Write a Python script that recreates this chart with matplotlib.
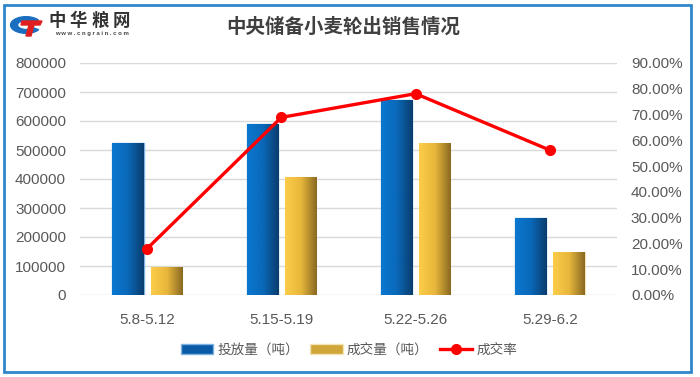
import numpy as np
import matplotlib
matplotlib.use("Agg")
import matplotlib.pyplot as plt
from matplotlib.patches import Rectangle, Wedge, Polygon
from matplotlib.lines import Line2D
from matplotlib.ticker import FuncFormatter
from matplotlib.colors import LinearSegmentedColormap

categories = ["5.8-5.12", "5.15-5.19", "5.22-5.26", "5.29-6.2"]
offered = [523000, 589000, 672000, 265000]      # 投放量（吨）
traded = [97000, 408000, 525000, 148000]        # 成交量（吨）
rate = [0.180, 0.689, 0.781, 0.562]             # 成交率
left_ticks = [0, 100000, 200000, 300000, 400000, 500000, 600000, 700000, 800000]
right_ticks = [0.0, 0.1, 0.2, 0.3, 0.4, 0.5, 0.6, 0.7, 0.8, 0.9]
title = "中央储备小麦轮出销售情况"
legend_labels = ["投放量（吨）", "成交量（吨）", "成交率"]
logo_chars = ["中", "华", "粮", "网"]

W, H = 700, 377
fig = plt.figure(figsize=(W / 100, H / 100), dpi=100)
fig.patch.set_facecolor("white")

def fx(px):
    return px / W

def fy(py):
    return 1 - py / H

CJK = ["Noto Sans CJK SC", "DejaVu Sans"]
NUM = ["Liberation Sans", "DejaVu Sans"]
tick_color = "#595959"

# outer border
fig.add_artist(Rectangle((fx(4), fy(372)), fx(691) - fx(4), fy(5) - fy(372),
                         transform=fig.transFigure, fill=False,
                         edgecolor="#2f88cc", linewidth=2))

ax = fig.add_axes([fx(80), fy(295), fx(617) - fx(80), fy(63) - fy(295)])
ax2 = ax.twinx()
ax.set_zorder(1)
ax2.set_zorder(2)
ax.patch.set_visible(False)
ax2.patch.set_visible(False)

x = np.arange(len(categories))
bw = 0.232
off = 0.143

blue_cmap = LinearSegmentedColormap.from_list("b", ["#0a78d0", "#0a68b8", "#0a3d6e"])
yel_cmap = LinearSegmentedColormap.from_list("y", ["#fbcd48", "#e8b73c", "#8a6a22"])

b1 = ax.bar(x - off, offered, width=bw, color="#0a6cc0",
            edgecolor="#7fb3e0", linewidth=1.0, zorder=3)
b2 = ax.bar(x + off, traded, width=bw, color="#e8b73c",
            edgecolor="#f3e3b5", linewidth=0.8, zorder=3)

grad = np.linspace(0, 1, 64).reshape(1, -1)
for bars, cmap in ((b1, blue_cmap), (b2, yel_cmap)):
    for p in bars:
        x0, y0 = p.get_x(), p.get_y()
        w, h = p.get_width(), p.get_height()
        im = ax.imshow(grad, cmap=cmap, aspect="auto",
                       extent=[x0, x0 + w, y0, y0 + h], zorder=3.5,
                       interpolation="bilinear")
        im.set_clip_path(p)

ax.set_xlim(-0.5, len(categories) - 0.5)
ax.set_ylim(0, 800000)
ax.set_yticks(left_ticks)
ax.set_xticks(x)
ax.set_xticklabels(categories)
ax.grid(axis="y", color="#d9d9d9", linewidth=1.0, zorder=0)
ax.set_axisbelow(True)
for s in ax.spines.values():
    s.set_visible(False)
for s in ax2.spines.values():
    s.set_visible(False)
ax.tick_params(axis="both", length=0, colors=tick_color, labelsize=11)
ax.tick_params(axis="y", pad=10)
ax.tick_params(axis="x", pad=13)
for lab in ax.get_xticklabels() + ax.get_yticklabels():
    lab.set_family(NUM)

ax2.plot(x, rate, color="#ff0000", linewidth=2.4, marker="o",
         markersize=7, zorder=5)
ax2.set_ylim(0, 0.9)
ax2.set_yticks(right_ticks)
ax2.yaxis.set_major_formatter(FuncFormatter(lambda v, p: f"{v * 100:.2f}%"))
ax2.tick_params(axis="y", length=0, colors=tick_color, labelsize=11, pad=10)
for lab in ax2.get_yticklabels():
    lab.set_family(NUM)

# title
fig.text(fx(343), fy(27), title, ha="center", va="center", fontsize=14,
         fontweight="bold", color="#404040", family=CJK)

# logo
fig.add_artist(Wedge((fx(26), fy(25)), 0.022, 35, 325, width=0.010,
                     transform=fig.transFigure, color="#1a6fc0"))
fig.add_artist(Polygon([(fx(22), fy(21)), (fx(42), fy(21)), (fx(40), fy(25)),
                        (fx(34), fy(25)), (fx(31), fy(36)), (fx(26), fy(36)),
                        (fx(29), fy(25)), (fx(21), fy(25))],
                       closed=True, transform=fig.transFigure, color="#e02020"))
for i, ch in enumerate(logo_chars):
    fig.text(fx(57 + i * 21.5), fy(21), ch, ha="center", va="center",
             fontsize=12.5, fontweight="bold", color="#333333", family=CJK)
fig.text(fx(92), fy(33.5), "w w w . c n g r a i n . c o m", ha="center",
         va="center", fontsize=4.3, fontweight="bold", color="#444444",
         family=NUM)

# legend
handles = [
    Rectangle((0, 0), 1, 1, facecolor="#0a5aa6", edgecolor="#7fb3e0"),
    Rectangle((0, 0), 1, 1, facecolor="#d0a53a", edgecolor="#f3e3b5"),
    Line2D([0], [0], color="#ff0000", linewidth=2.4, marker="o", markersize=7),
]
leg = fig.legend(handles, legend_labels, loc="center", ncol=3,
                 bbox_to_anchor=(fx(349), fy(350)), frameon=False,
                 prop={"family": CJK, "size": 9.8},
                 handlelength=2.4, handleheight=0.8, handletextpad=0.3,
                 columnspacing=0.8, labelcolor="#595959")

fig.savefig("out.png", dpi=100, facecolor="white")
